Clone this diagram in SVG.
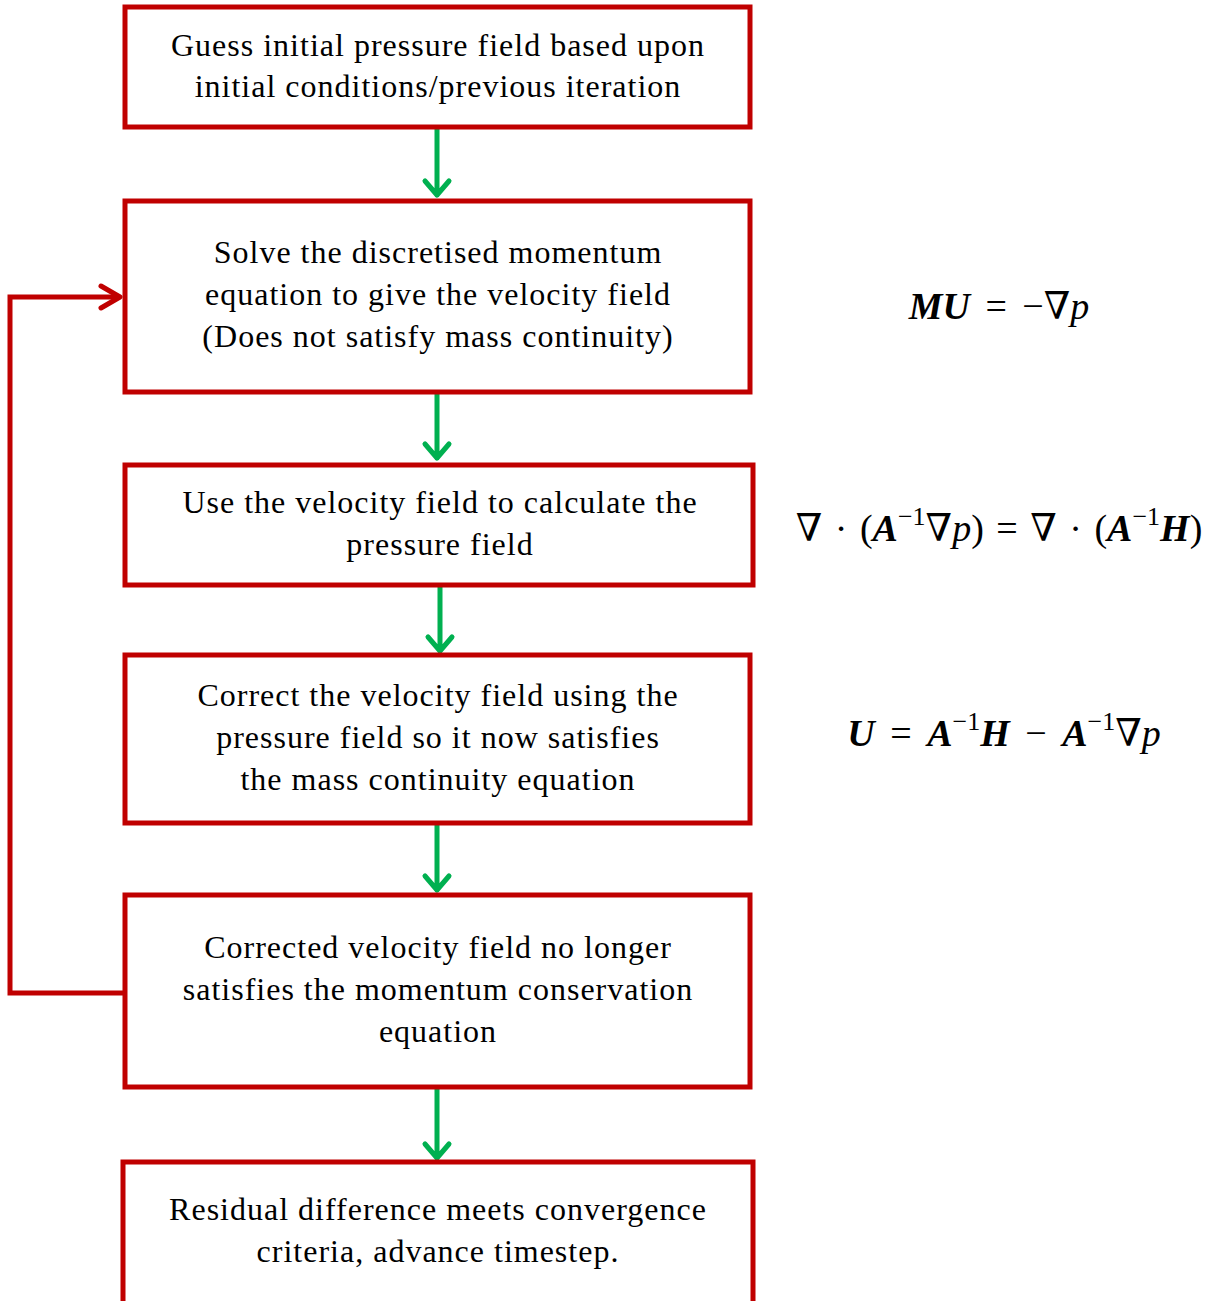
<svg xmlns="http://www.w3.org/2000/svg" width="1212" height="1301" viewBox="0 0 1212 1301">
<style>
.box{fill:#fff;stroke:#C00000;stroke-width:5}
.t{font-family:"Liberation Serif","DejaVu Serif",serif;font-size:32px;letter-spacing:1px;fill:#000;text-anchor:middle}
.eq{font-family:"Liberation Serif","DejaVu Serif",serif;font-size:38px;fill:#000;text-anchor:middle;word-spacing:6px}
.bi{font-weight:bold;font-style:italic}
.it{font-style:italic}
.sup{font-size:26px}
.g{stroke:#00B050;stroke-width:5;fill:none;stroke-linecap:round;stroke-linejoin:round}
.r{stroke:#C00000;stroke-width:5;fill:none}
</style>
<rect width="1212" height="1301" fill="#fff"/>
<g id="connectors">
<path class="g" d="M437 127V195M425 181L437 195L449 181"/>
<path class="g" d="M437 392V458M425 444L437 458L449 444"/>
<path class="g" d="M440 585V651M428 637L440 651L452 637"/>
<path class="g" d="M437 823V890M425 876L437 890L449 876"/>
<path class="g" d="M437 1087V1158M425 1144L437 1158L449 1144"/>
<path class="r" d="M125 993H10V297H120"/>
<path class="r" d="M101 286L120 297L101 308" stroke-linecap="round" stroke-linejoin="round"/>
</g>
<g id="n1"><rect class="box" x="125" y="7" width="625" height="120"/>
<text class="t" x="438" y="56">Guess initial pressure field based upon</text>
<text class="t" x="438" y="97">initial conditions/previous iteration</text></g>
<g id="n2"><rect class="box" x="125" y="201" width="625" height="191"/>
<text class="t" x="438" y="263">Solve the discretised momentum</text>
<text class="t" x="438" y="305">equation to give the velocity field</text>
<text class="t" x="438" y="347">(Does not satisfy mass continuity)</text></g>
<g id="n3"><rect class="box" x="125" y="465" width="628" height="120"/>
<text class="t" x="440" y="513">Use the velocity field to calculate the</text>
<text class="t" x="440" y="555">pressure field</text></g>
<g id="n4"><rect class="box" x="125" y="655" width="625" height="168"/>
<text class="t" x="438" y="706">Correct the velocity field using the</text>
<text class="t" x="438" y="748">pressure field so it now satisfies</text>
<text class="t" x="438" y="790">the mass continuity equation</text></g>
<g id="n5"><rect class="box" x="125" y="895" width="625" height="192"/>
<text class="t" x="438" y="958">Corrected velocity field no longer</text>
<text class="t" x="438" y="1000">satisfies the momentum conservation</text>
<text class="t" x="438" y="1042">equation</text></g>
<g id="n6"><rect class="box" x="123" y="1162" width="630" height="142"/>
<text class="t" x="438" y="1220">Residual difference meets convergence</text>
<text class="t" x="438" y="1262">criteria, advance timestep.</text></g>
<g id="eq1"><text class="eq" x="999" y="319"><tspan class="bi">MU</tspan> = −∇<tspan class="it">p</tspan></text></g>
<g id="eq2"><text class="eq" x="999" y="541" style="word-spacing:3px"><tspan class="it">∇</tspan> · (<tspan class="bi">A</tspan><tspan class="sup" dy="-16">−1</tspan><tspan dy="16">∇</tspan><tspan class="it">p</tspan>) = ∇ · (<tspan class="bi">A</tspan><tspan class="sup" dy="-16">−1</tspan><tspan class="bi" dy="16">H</tspan>)</text></g>
<g id="eq3"><text class="eq" x="1004" y="746"><tspan class="bi">U</tspan> = <tspan class="bi">A</tspan><tspan class="sup" dy="-16">−1</tspan><tspan class="bi" dy="16">H</tspan> − <tspan class="bi">A</tspan><tspan class="sup" dy="-16">−1</tspan><tspan dy="16">∇</tspan><tspan class="it">p</tspan></text></g>
</svg>
